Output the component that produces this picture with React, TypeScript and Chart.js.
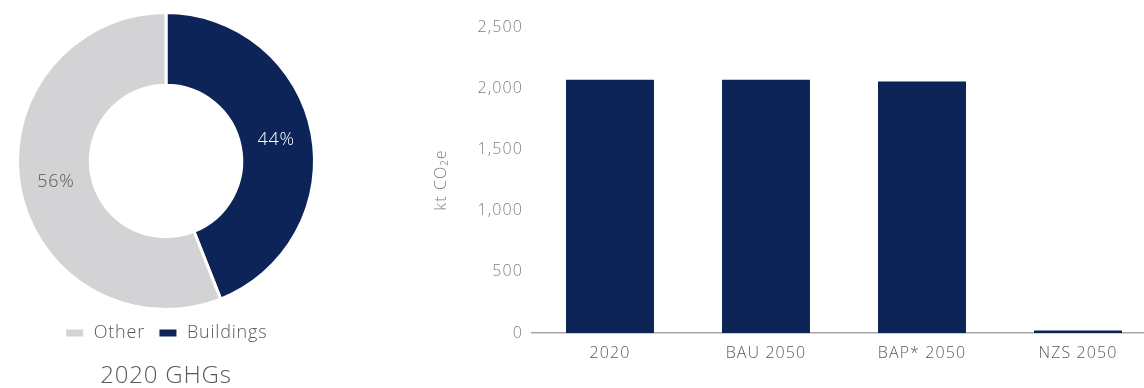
import React, { useEffect, useRef } from "react";
import { Chart, registerables } from "chart.js";

Chart.register(...registerables);

// Doughnut data (2020 GHGs)
const shareLabels = ["Buildings", "Other"];
const shareValues = [44, 56];
const shareColors = ["#0C2458", "#D3D3D5"];
const shareTextColors = ["#FFFFFF", "#595959"];
const doughnutTitle = "2020 GHGs";

// Bar data
const scenarioLabels = ["2020", "BAU 2050", "BAP* 2050", "NZS 2050"];
const emissionValues = [2070, 2070, 2055, 20];
const yTickMax = 2500;
const yTickStep = 500;
const yAxisTitle = "kt CO\u2082e";

const FONT = "'Open Sans', 'DejaVu Sans', sans-serif";
const NAVY = "#0C2458";

const makeSpacing = (px: string) => ({
  id: "letterSpacing",
  beforeLayout(chart: any) {
    chart.ctx.letterSpacing = px;
  },
  beforeDraw(chart: any) {
    chart.ctx.letterSpacing = px;
  },
});

const pctLabelPlugin = {
  id: "pctLabels",
  afterDatasetsDraw(chart: any) {
    const { ctx } = chart;
    const meta = chart.getDatasetMeta(0);
    const data = chart.data.datasets[0].data as number[];
    const total = data.reduce((a, b) => a + b, 0);
    ctx.save();
    ctx.font = `300 18px ${FONT}`;
    ctx.textAlign = "center";
    ctx.textBaseline = "middle";
    meta.data.forEach((arc: any, i: number) => {
      const p = arc.tooltipPosition();
      ctx.fillStyle = shareTextColors[i];
      ctx.fillText(Math.round((data[i] / total) * 100) + "%", p.x, p.y);
    });
    ctx.restore();
  },
};

export default function App() {
  const dRef = useRef<HTMLCanvasElement>(null);
  const bRef = useRef<HTMLCanvasElement>(null);

  useEffect(() => {
    const d = new Chart(dRef.current!, {
      type: "doughnut",
      data: {
        labels: shareLabels,
        datasets: [
          {
            data: shareValues,
            backgroundColor: shareColors,
            borderColor: "#FFFFFF",
            borderWidth: 3,
          },
        ],
      },
      options: {
        animation: false,
        responsive: false,
        maintainAspectRatio: false,
        cutout: "51%",
        layout: { padding: { top: 11, bottom: 0 } },
        plugins: {
          tooltip: { enabled: false },
          legend: {
            position: "bottom",
            reverse: true,
            labels: {
              boxWidth: 20,
              boxHeight: 10,
              padding: 13,
              color: "#595959",
              font: { family: FONT, size: 18, weight: "300" as any, lineHeight: 1.1 },
            },
          },
          title: {
            display: true,
            position: "bottom",
            text: doughnutTitle,
            color: "#595959",
            padding: { top: 12, bottom: 0 },
            font: { family: FONT, size: 24, weight: "300" as any, lineHeight: 1 },
          },
        },
      },
      plugins: [makeSpacing("0.8px"), pctLabelPlugin],
    });

    const b = new Chart(bRef.current!, {
      type: "bar",
      data: {
        labels: scenarioLabels,
        datasets: [
          {
            data: emissionValues,
            backgroundColor: NAVY,
            categoryPercentage: 1,
            barPercentage: 0.564,
          },
        ],
      },
      options: {
        animation: false,
        responsive: false,
        maintainAspectRatio: false,
        layout: { padding: { top: 27, right: 4, left: 0, bottom: 0 } },
        plugins: { legend: { display: false }, tooltip: { enabled: false } },
        scales: {
          x: {
            grid: { display: false, drawTicks: false },
            border: { display: true, color: "#A6A6A6", width: 1.5 },
            ticks: {
              padding: 11,
              color: "#595959",
              font: { family: FONT, size: 16, weight: "300" as any },
            },
            afterFit(scale: any) {
              scale.height = 55;
            },
          },
          y: {
            min: 0,
            max: yTickMax,
            grid: { display: false, drawTicks: false },
            border: { display: false },
            ticks: {
              stepSize: yTickStep,
              padding: 9,
              color: "#7F7F7F",
              font: { family: FONT, size: 16, weight: "300" as any },
            },
            title: {
              display: true,
              text: yAxisTitle,
              color: "#7F7F7F",
              padding: { top: 32, bottom: 0 },
              font: { family: FONT, size: 16, weight: "300" as any },
            },
            afterFit(scale: any) {
              scale.width = 132;
            },
          },
        },
      },
      plugins: [makeSpacing("1.1px")],
    });

    return () => {
      d.destroy();
      b.destroy();
    };
  }, []);

  return (
    <div
      style={{
        position: "absolute",
        left: 0,
        top: 0,
        width: 1144,
        height: 388,
        overflow: "hidden",
        background: "#FFFFFF",
      }}
    >
      <canvas
        ref={dRef}
        width={332}
        height={388}
        style={{ position: "absolute", left: 0, top: 0, width: 332, height: 388 }}
      />
      <canvas
        ref={bRef}
        width={760}
        height={388}
        style={{ position: "absolute", left: 400, top: 0, width: 760, height: 388 }}
      />
    </div>
  );
}
